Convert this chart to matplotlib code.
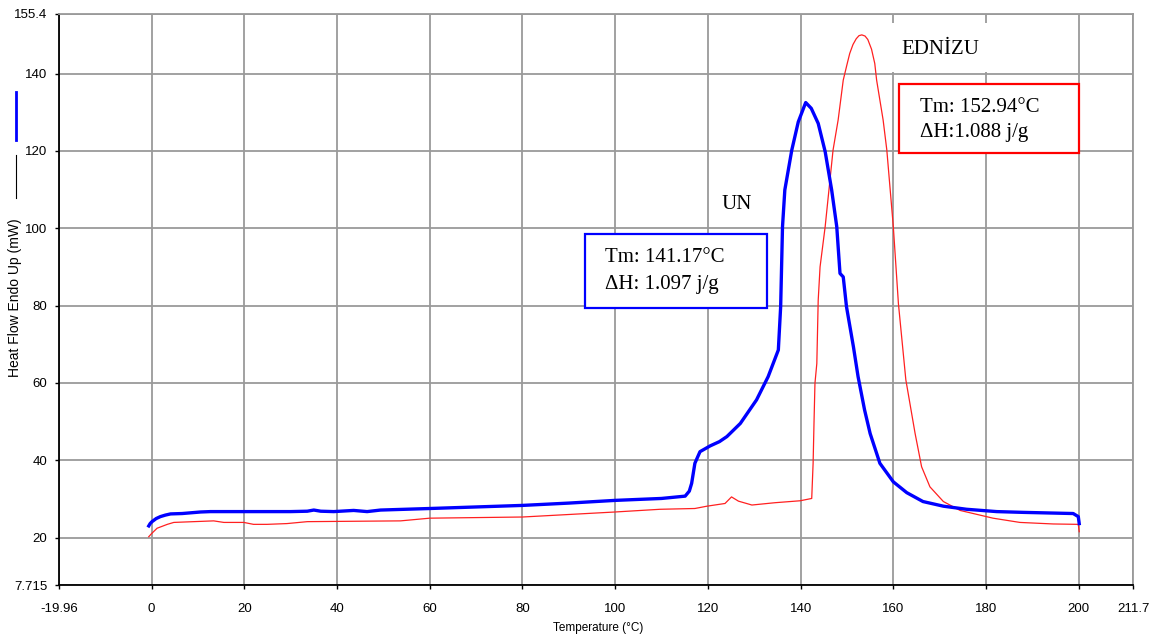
import matplotlib
matplotlib.use('Agg')
import matplotlib.pyplot as plt
from matplotlib.patches import Rectangle
from matplotlib.lines import Line2D

# DSC curves
un_temp = [-0.6, -0.3, 0.1, 1.0, 1.9, 3.0, 4.1, 6.6, 10.6, 12.7, 20, 30, 33.6, 35.0, 36.5,
           39.3, 43.6, 46.5, 49.4, 60, 70, 80, 90, 100, 110, 115.1, 116.0, 116.5, 117.2,
           118.3, 120.5, 122.5, 124.1, 127.0, 130.5, 133.0, 135.2, 135.7, 136.1, 136.6,
           138.1, 139.5, 141.1, 142.3, 143.8, 145.3, 146.7, 147.8, 148.5, 149.2, 149.9,
           151.4, 152.4, 153.8, 155.0, 157.1, 160.0, 162.9, 166.4, 170.8, 175.8, 182.3,
           188.0, 198.8, 199.9, 200.1]
un_flow = [23.0, 23.6, 24.1, 24.9, 25.4, 25.8, 26.1, 26.2, 26.6, 26.7, 26.7, 26.7, 26.8, 27.1, 26.8,
           26.7, 27.0, 26.7, 27.1, 27.5, 27.9, 28.3, 28.9, 29.6, 30.1, 30.7, 32.0, 34.0, 39.2,
           42.2, 43.7, 44.8, 46.1, 49.5, 55.6, 61.6, 68.5, 79.7, 100.4, 109.9,
           120.2, 127.5, 132.5, 131.0, 127.1, 119.8, 109.9, 100.4, 88.3, 87.4, 79.7,
           69.3, 61.6, 53.0, 46.9, 39.2, 34.4, 31.6, 29.3, 28.1, 27.3, 26.7,
           26.5, 26.2, 25.4, 23.6]

ed_temp = [-0.6, 0.0, 1.2, 3.4, 4.8, 13.4, 15.6, 19.9, 22.0, 24.9, 29.2, 33.6, 53.7, 60, 80,
           100, 109.7, 117.2, 119.8, 123.7, 125.1, 126.6, 129.5, 134.5, 139.9, 142.4, 142.7,
           142.9, 143.1, 143.5, 143.8, 144.2, 145.3, 147.0, 148.1, 149.2, 150.0, 150.6, 151.3,
           152.0, 152.6, 153.2, 153.9, 154.5, 155.3, 156.0, 156.4, 157.8, 158.6, 160.0, 161.1,
           162.7, 164.7, 166.1, 167.9, 170.8, 174.4, 181.5, 187.3, 194.5, 199.9, 200.1]
ed_flow = [20.2, 21.0, 22.4, 23.4, 23.9, 24.3, 23.9, 23.9, 23.4, 23.4, 23.6, 24.1, 24.3, 25.0, 25.3,
           26.6, 27.3, 27.5, 28.1, 28.8, 30.5, 29.4, 28.4, 29.0, 29.5, 30.1, 39.2,
           50.0, 59.9, 65.0, 81.4, 90.0, 100.4, 120.2, 128.0, 138.3, 142.3, 145.2, 147.5,
           149.0, 149.8, 150.0, 149.7, 148.8, 146.3, 142.6, 138.3, 128.0, 120.2, 100.4, 80.5,
           60.8, 46.9, 38.3, 33.1, 29.3, 27.0, 25.0, 23.9, 23.5, 23.4, 21.5]

x_ticks = [-19.96, 0, 20, 40, 60, 80, 100, 120, 140, 160, 180, 200, 211.7]
y_ticks = [7.715, 20, 40, 60, 80, 100, 120, 140, 155.4]
x_labels = ['-19.96', '0', '20', '40', '60', '80', '100', '120', '140', '160', '180', '200', '211.7']
y_labels = ['7.715', '20', '40', '60', '80', '100', '120', '140', '155.4']

tick_font = ['Liberation Sans Narrow', 'Liberation Sans', 'DejaVu Sans']
serif = ['Liberation Serif', 'DejaVu Serif']

fig = plt.figure(figsize=(11.56, 6.38), dpi=100)
ax = fig.add_axes([59 / 1156, 53 / 638, 1074 / 1156, 571 / 638])

ax.set_xlim(x_ticks[0], x_ticks[-1])
ax.set_ylim(y_ticks[0], y_ticks[-1])
ax.set_xticks(x_ticks)
ax.set_yticks(y_ticks)
ax.set_xticklabels(x_labels, family=tick_font, fontsize=9.5)
ax.set_yticklabels(y_labels, family=tick_font, fontsize=9.5)
ax.tick_params(direction='out', length=3, width=1)
ax.tick_params(axis='y', pad=5.5)
ax.tick_params(axis='x', pad=10)
ax.set_axisbelow(True)
ax.grid(True, color='#9a9a9a', linewidth=1.3)
for side in ['left', 'bottom']:
    ax.spines[side].set_color('black')
    ax.spines[side].set_linewidth(1.3)
for side in ['top', 'right']:
    ax.spines[side].set_color('#9a9a9a')
    ax.spines[side].set_linewidth(1.3)

ax.plot(ed_temp, ed_flow, color='#ff2020', linewidth=0.9, zorder=3)
ax.plot(un_temp, un_flow, color='#0000ff', linewidth=2.4, zorder=4)

# white patch behind the EDNIZU label
ax.add_patch(Rectangle((0.766, 0.898), 0.115, 0.086, transform=ax.transAxes,
                       facecolor='white', edgecolor='none', zorder=1))
ax.text(0.8203, 0.937, 'EDNİZU', transform=ax.transAxes, family=serif, fontsize=15,
        ha='center', va='center', zorder=5)
ax.text(0.6313, 0.6655, 'UN', transform=ax.transAxes, family=serif, fontsize=15,
        ha='center', va='center', zorder=5,
        bbox=dict(facecolor='white', edgecolor='none', boxstyle='square,pad=0.6'))

# result boxes
ax.add_patch(Rectangle((0.4898, 0.4851), 0.1694, 0.1296, transform=ax.transAxes,
                       facecolor='white', edgecolor='#0000ff', linewidth=1.6, zorder=5))
ax.text(0.5084, 0.5727, 'Tm: 141.17°C', transform=ax.transAxes, family=serif, fontsize=15,
        ha='left', va='center', zorder=6)
ax.text(0.5084, 0.5254, 'ΔH: 1.097 j/g', transform=ax.transAxes, family=serif, fontsize=15,
        ha='left', va='center', zorder=6)

ax.add_patch(Rectangle((0.7821, 0.7566), 0.1676, 0.1208, transform=ax.transAxes,
                       facecolor='white', edgecolor='#ff0000', linewidth=1.6, zorder=5))
ax.text(0.8017, 0.8354, 'Tm: 152.94°C', transform=ax.transAxes, family=serif, fontsize=15,
        ha='left', va='center', zorder=6)
ax.text(0.8017, 0.7916, 'ΔH:1.088 j/g', transform=ax.transAxes, family=serif, fontsize=15,
        ha='left', va='center', zorder=6)

# axis titles
fig.text(598 / 1156, 1 - 628 / 638, 'Temperature (°C)', family=tick_font, fontsize=8.5,
         ha='center', va='center')
fig.text(15 / 1156, 1 - 298 / 638, 'Heat Flow Endo Up (mW)', family=['Liberation Sans', 'DejaVu Sans'],
         fontsize=10, rotation=90, ha='center', va='center')
fig.add_artist(Line2D([16 / 1156, 16 / 1156], [1 - 155 / 638, 1 - 198 / 638],
                      color='black', linewidth=0.8))
fig.add_artist(Line2D([16 / 1156, 16 / 1156], [1 - 92 / 638, 1 - 140 / 638],
                      color='#0000ff', linewidth=2))

fig.savefig('out.png', dpi=100)
